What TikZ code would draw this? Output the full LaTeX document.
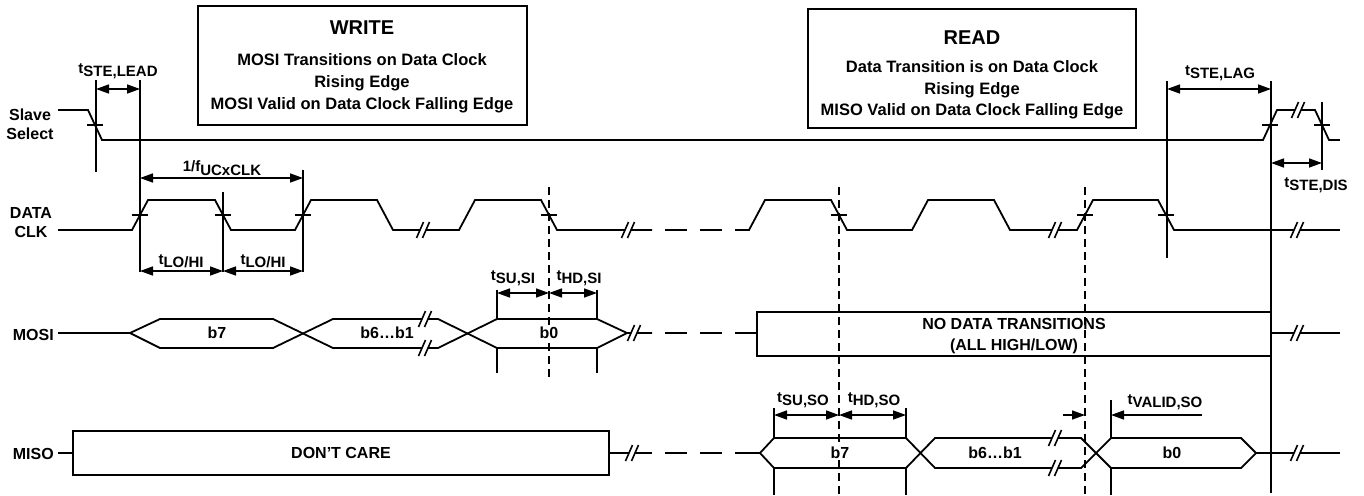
\documentclass[tikz,border=0pt]{standalone}
\usepackage{fontspec}
\setmainfont{Liberation Sans}
\usetikzlibrary{arrows.meta}
\newcommand{\tsub}[1]{\raisebox{3pt}{t}#1}

\begin{document}
\begin{tikzpicture}[x=1pt, y=-1pt,
		sig/.style={line width=1.8pt, line join=miter},
		dline/.style={line width=1.8pt, dash pattern=on 8pt off 5pt},
		gap/.style={line width=2.8pt},
		dim/.style={line width=1.6pt, {Triangle[length=13pt,width=9pt]}-{Triangle[length=13pt,width=9pt]}},
		dimr/.style={line width=1.6pt, -{Triangle[length=13pt,width=9pt]}},
		lbl/.style={font=\fontsize{16}{19}\selectfont\bfseries, inner sep=0pt},
		hexlbl/.style={lbl, fill=white, inner sep=1pt},
		tlbl/.style={font=\fontsize{15}{18}\selectfont\bfseries, inner sep=0pt, anchor=base},
		boxtxt/.style={font=\fontsize{16.5}{20}\selectfont\bfseries, inner sep=0pt, anchor=base},
		title/.style={font=\fontsize{20}{24}\selectfont\bfseries, inner sep=0pt, anchor=base},
		brk/.pic={\fill[white] (-6.5,8) -- (0.5,-8) -- (6.5,-8) -- (-0.5,8) -- cycle;
			\draw[line width=1.6pt] (-6.5,8) -- (0.5,-8) (-0.5,8) -- (6.5,-8);}
		]
		\useasboundingbox (0,0) rectangle (1364,495);
		
		% Boites WRITE / READ
		\draw[sig] (198,6) rectangle (527,125);
		\node[title]  (w1) at (362,35)  {WRITE};
		\node[boxtxt] (w2) at (362,65)  {MOSI Transitions on Data Clock};
		\node[boxtxt] (w3) at (362,87)  {Rising Edge};
		\node[boxtxt] (w4) at (362,109) {MOSI Valid on Data Clock Falling Edge};
		\draw[sig] (808,9) rectangle (1136,128);
		\node[title]  (r1) at (972,45)  {READ};
		\node[boxtxt] (r2) at (972,72)  {Data Transition is on Data Clock};
		\node[boxtxt] (r3) at (972,94)  {Rising Edge};
		\node[boxtxt] (r4) at (972,115) {MISO Valid on Data Clock Falling Edge};
		
		% Noms des signaux
		\node[lbl, anchor=base] (ss1) at (30,120) {Slave};
		\node[lbl, anchor=base] (ss2) at (30,139) {Select};
		\node[lbl, anchor=base] (ck1) at (31,218) {DATA};
		\node[lbl, anchor=base] (ck2) at (31,237) {CLK};
		\node[lbl, anchor=base east] (mosi) at (54,340) {MOSI};
		\node[lbl, anchor=base east] (miso) at (54,459) {MISO};
		
		% Slave select
		\draw[sig] (58,110) -- (88,110) -- (102,140) -- (1263,140) -- (1277,110)
		-- (1315,110) -- (1329,140) -- (1330,140);
		
		% Horloge
		\draw[sig] (58,230) -- (132,230) -- (148,200) -- (215,200) -- (231,230)
		-- (295,230) -- (311,200) -- (377,200) -- (393,230) -- (459,230)
		-- (475,200) -- (541,200) -- (557,230) -- (652,230);
		\draw[sig] (749,230) -- (765,200) -- (831,200) -- (847,230) -- (912,230)
		-- (928,200) -- (994,200) -- (1010,230) -- (1077,230) -- (1093,200)
		-- (1158,200) -- (1174,230) -- (1330,230);
		
		% MOSI
		\draw[sig] (58,333) -- (130,333);
		\draw[sig] (130,333) -- (160,319) -- (273,319) -- (333,348) -- (438,348)
		-- (497,319) -- (597,319) -- (627,333) -- (652,333);
		\draw[sig] (130,333) -- (160,348) -- (273,348) -- (333,319) -- (438,319)
		-- (497,348) -- (597,348) -- (627,333);
		\draw[sig] (757,312) rectangle (1271,356);
		\draw[sig] (1271,333) -- (1330,333);
		\node[hexlbl] (b7w) at (217,333) {b7};
		\node[hexlbl] (b61w) at (387,333) {b6…b1};
		\node[lbl] (nd1) [anchor=base] at (1014,329) {NO DATA TRANSITIONS};
		\node[lbl] (nd2) [anchor=base] at (1014,350) {(ALL HIGH/LOW)};
		
		% MISO
		\draw[sig] (58,453) -- (73,453);
		\draw[sig] (73,431) rectangle (609,475);
		\draw[sig] (609,453) -- (652,453);
		\node[lbl] (dc) at (341,453) {DON’T CARE};
		\draw[sig] (760,453) -- (774,438) -- (906,438) -- (935,468) -- (1081,468)
		-- (1111,438) -- (1241,438) -- (1256,453) -- (1330,453);
		\draw[sig] (760,453) -- (774,468) -- (906,468) -- (935,438) -- (1081,438)
		-- (1111,468) -- (1241,468) -- (1256,453);
		
		% Pointilles entre les deux phases, bouts de ligne
		\foreach \y/\e in {230/750, 333/757, 453/760}
		\draw[gap] (665,\y) -- (687,\y) (700,\y) -- (722,\y) (735,\y) -- (\e,\y);
		\foreach \y in {140,230,333,453}
		\draw[gap] (1329,\y) -- (1340,\y);
		
		% Coupures
		\foreach \p in {(423,230), (628,230), (1055,230), (1297,230), (1298,110),
			(425,319), (425,348), (634,333), (1297,333),
			(632,453), (1055,438), (1055,468), (1297,453)}
		\pic at \p {brk};
		
		% Reperes sur les fronts
		\foreach \x/\y in {95/125, 140/215, 223/215, 303/215, 549/215, 839/215,
			1085/215, 1166/215, 1270/125, 1322/125}
		\draw[sig] (\x-8,\y) -- (\x+8,\y);
		
		% Lignes de reference
		\draw[sig] (96,80) -- (96,172);
		\draw[sig] (140,80) -- (140,272);
		\draw[sig] (223,192) -- (223,272);
		\draw[sig] (303,170) -- (303,272);
		\draw[sig] (1167,81) -- (1167,258);
		\draw[sig] (1271,81) -- (1271,493);
		\draw[sig] (1322,102) -- (1322,170);
		\foreach \x in {497,597}
		\draw[sig] (\x,290) -- (\x,319) (\x,348) -- (\x,373);
		\foreach \x in {774,906}
		\draw[sig] (\x,408) -- (\x,438) (\x,468) -- (\x,495);
		\draw[sig] (1111,400) -- (1111,438) (1111,468) -- (1111,495);
		\draw[dline] (549,187) -- (549,377);
		\draw[dline] (839,187) -- (839,495);
		\draw[dline] (1085,187) -- (1085,495);
		\node[hexlbl] (b0w) at (549,333) {b0};
		\node[hexlbl] (b7r) at (840,453) {b7};
		\node[hexlbl] (b61r) at (995,453) {b6…b1};
		\node[hexlbl] (b0r) at (1172,453) {b0};
		
		% Cotes
		\draw[dim] (96,89) -- (140,89);
		\draw[dim] (140,178) -- (303,178);
		\draw[dim] (140,271) -- (223,271);
		\draw[dim] (223,271) -- (303,271);
		\draw[dim] (497,293) -- (549,293);
		\draw[dim] (549,293) -- (597,293);
		\draw[dim] (1167,89) -- (1271,89);
		\draw[dim] (1271,163) -- (1322,163);
		\draw[dim] (774,415) -- (839,415);
		\draw[dim] (839,415) -- (906,415);
		\draw[dimr] (1063,415) -- (1085,415);
		\draw[dimr] (1202,415) -- (1111,415);
		
		\node[tlbl] (tlead) at (118,77)  {\tsub{STE,LEAD}};
		\node[tlbl] (tper)  at (222,175) {\raisebox{4pt}{1/f}UCxCLK};
		\node[tlbl] (tlo1)  at (181,267) {\tsub{LO/HI}};
		\node[tlbl] (tlo2)  at (263,267) {\tsub{LO/HI}};
		\node[tlbl] (tsusi) at (513,283) {\tsub{SU,SI}};
		\node[tlbl] (thdsi) at (579,283) {\tsub{HD,SI}};
		\node[tlbl] (tlag)  at (1220,78) {\tsub{STE,LAG}};
		\node[tlbl] (tdis)  at (1316,190) {\tsub{STE,DIS}};
		\node[tlbl] (tsuso) at (803,405) {\tsub{SU,SO}};
		\node[tlbl] (thdso) at (874,405) {\tsub{HD,SO}};
		\node[tlbl] (tval)  at (1165,407) {\tsub{VALID,SO}};
\end{tikzpicture}
\end{document}
